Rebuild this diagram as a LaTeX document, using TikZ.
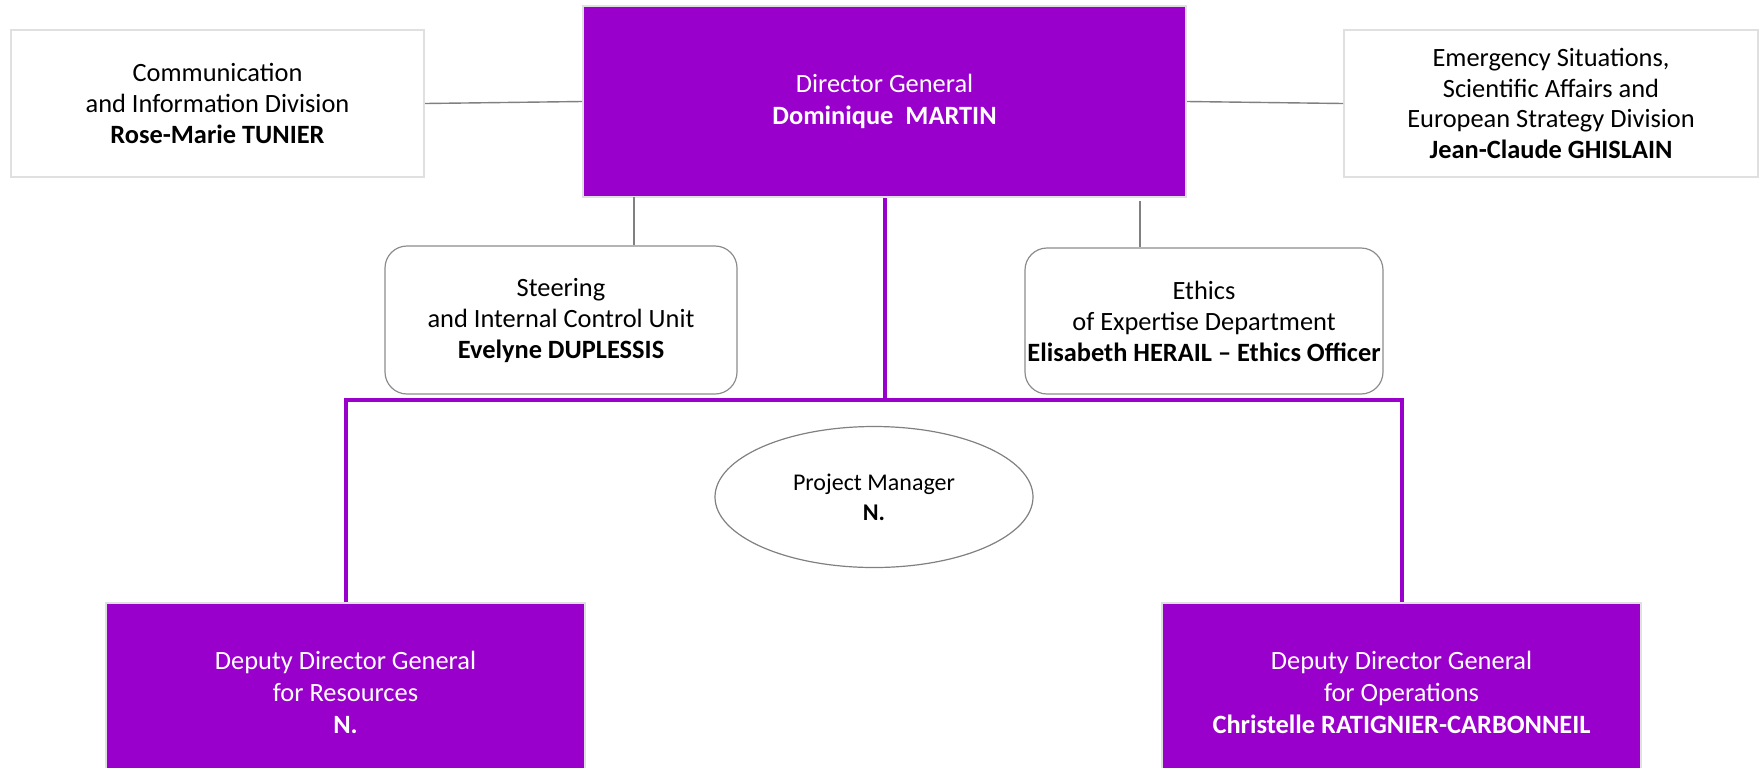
\documentclass[tikz,border=0pt]{standalone}
\usepackage{fontspec}
\setmainfont{Carlito}
\usetikzlibrary{shapes.geometric}
\definecolor{violet}{RGB}{153,0,204}
\begin{document}
\begin{tikzpicture}[x=0.5pt, y=-0.5pt]
\tikzset{chef/.style={draw=black!12, line width=1pt, fill=violet, text=white, align=center, font=\fontsize{13.2}{16}\selectfont},
  pole/.style={draw=black!12, line width=1pt, fill=white, align=center, font=\fontsize{13.2}{15.3}\selectfont},
  cellule/.style={draw=black!45, line width=0.6pt, rounded corners=11pt, inner xsep=0pt, align=center, font=\fontsize{13.2}{15.5}\selectfont},
  lien/.style={draw=black!50, line width=0.7pt},
  hier/.style={draw=violet, line width=2pt}}
\useasboundingbox (0,0) rectangle (1760,767);
\clip (0,0) rectangle (1760,767);
\node[chef, minimum width=301.5pt, minimum height=95.5pt] (DG) at (884.5,101.5) {Director General\\ \textbf{Dominique~ MARTIN}};
\node[pole, minimum width=206.5pt, minimum height=73.5pt] (COM) at (217.5,103.5) {Communication\\ and Information Division\\ \textbf{Rose-Marie TUNIER}};
\node[pole, minimum width=207pt, minimum height=73.5pt] (ESA) at (1551,103.5) {Emergency Situations,\\ Scientific Affairs and\\ European Strategy Division\\ \textbf{Jean-Claude GHISLAIN}};
\node[cellule, minimum width=176pt, minimum height=74pt] (SCI) at (561,320) {Steering\\ and Internal Control Unit\\ \textbf{Evelyne DUPLESSIS}};
\node[cellule, minimum width=179pt, minimum height=73pt] (DEO) at (1204,321) {Ethics\\ of Expertise Department\\ \textbf{Elisabeth HERAIL -- Ethics Officer}};
\node[ellipse, draw=black!50, line width=0.6pt, minimum width=159pt, minimum height=70.5pt, align=center, font=\fontsize{12}{15}\selectfont] (PM) at (874,497) {Project Manager\\ \textbf{N.}};
\node[chef, minimum width=239.5pt, minimum height=89pt] (DGR) at (345.5,692) {Deputy Director General\\ for Resources\\ \textbf{N.}};
\node[chef, minimum width=239.5pt, minimum height=89pt] (DGO) at (1401.5,692) {Deputy Director General\\ for Operations\\ \textbf{Christelle RATIGNIER-CARBONNEIL}};
\coordinate (S1) at (634,197);
\coordinate (S2) at (1140,201);
\coordinate (B) at (884.5,400);
\draw[lien] (COM.east) -- (DG.west);
\draw[lien] (DG.east) -- (ESA.west);
\draw[lien] (S1) -- (S1 |- SCI.north);
\draw[lien] (S2) -- (S2 |- DEO.north);
\draw[hier] (DG.south) -- (B);
\draw[hier] (DGR.north) |- (B) -| (DGO.north);
\end{tikzpicture}
\end{document}
